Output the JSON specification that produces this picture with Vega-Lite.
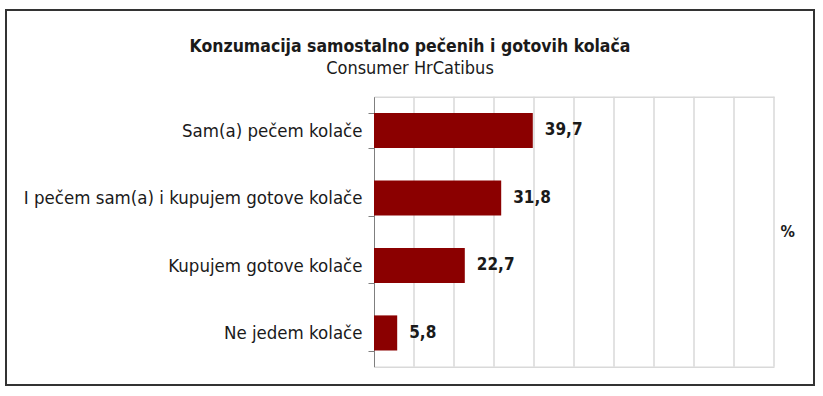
{
  "$schema": "https://vega.github.io/schema/vega-lite/v6.json",
  "width": 808,
  "height": 375,
  "autosize": {"type": "none"},
  "padding": {"left": 6, "top": 10, "right": 9, "bottom": 11},
  "background": "white",
  "title": {
    "text": "Konzumacija samostalno pečenih i gotovih kolača",
    "subtitle": "Consumer HrCatibus",
    "anchor": "middle",
    "frame": "group",
    "offset": -77,
    "font": "DejaVu Sans Condensed",
    "fontSize": 17.5,
    "fontWeight": "bold",
    "color": "#1a1a1a",
    "subtitleFont": "DejaVu Sans Condensed",
    "subtitleFontSize": 18,
    "subtitleColor": "#1a1a1a",
    "subtitlePadding": 5
  },
  "layer": [
    {
      "data": {"values": [{"g": 10}, {"g": 20}, {"g": 30}, {"g": 40}, {"g": 50}, {"g": 60}, {"g": 70}, {"g": 80}, {"g": 90}, {"g": 100}]},
      "mark": {"type": "rule", "color": "#d9d9d9", "strokeWidth": 1.5},
      "encoding": {
        "x": {"field": "g", "type": "quantitative", "axis": null},
        "y": {"datum": 0, "type": "quantitative", "scale": {"domain": [0, 1], "range": [86.7, 356.7]}, "axis": null},
        "y2": {"datum": 1}
      }
    },
    {
      "data": {
        "values": [
          {"kategorija": "Sam(a) pečem kolače", "postotak": 39.7},
          {"kategorija": "I pečem sam(a) i kupujem gotove kolače", "postotak": 31.8},
          {"kategorija": "Kupujem gotove kolače", "postotak": 22.7},
          {"kategorija": "Ne jedem kolače", "postotak": 5.8}
        ]
      },
      "layer": [
        {
          "mark": {"type": "bar", "color": "#8B0000"},
          "encoding": {
            "y": {
              "field": "kategorija",
              "type": "nominal",
              "sort": null,
              "scale": {"range": [86.7, 356.7], "paddingInner": 0.48, "paddingOuter": 0.24},
              "axis": {
                "orient": "left",
                "offset": -368,
                "title": null,
                "tickBand": "extent",
                "tickSize": 6,
                "labelPadding": 6,
                "domainColor": "#7f7f7f",
                "tickColor": "#7f7f7f",
                "labelFont": "DejaVu Sans Condensed",
                "labelFontSize": 18.5,
                "labelColor": "#1a1a1a",
                "labelLimit": 400
              }
            },
            "x": {
              "field": "postotak",
              "type": "quantitative",
              "axis": {
                "orient": "bottom",
                "offset": -18.3,
                "title": null,
                "labels": false,
                "ticks": false,
                "grid": false,
                "domainColor": "#d9d9d9",
                "domainWidth": 1.5
              }
            }
          }
        },
        {
          "mark": {"type": "text", "align": "left", "baseline": "middle", "dx": 12, "font": "DejaVu Sans Condensed", "fontSize": 17, "fontWeight": "bold", "color": "#1a1a1a"},
          "encoding": {
            "y": {
              "field": "kategorija",
              "type": "nominal",
              "sort": null,
              "axis": {
                "orient": "right",
                "offset": -40,
                "title": "%",
                "titleAngle": 0,
                "titleAlign": "left",
                "titleBaseline": "middle",
                "titlePadding": 6,
                "titleFont": "DejaVu Sans Condensed",
                "titleFontSize": 16,
                "titleFontWeight": "bold",
                "titleColor": "#1a1a1a",
                "labels": false,
                "ticks": false,
                "domain": false
              }
            },
            "x": {
              "field": "postotak",
              "type": "quantitative",
              "axis": {
                "orient": "top",
                "offset": -86.7,
                "title": null,
                "labels": false,
                "ticks": false,
                "grid": false,
                "domainColor": "#d9d9d9",
                "domainWidth": 1.5
              }
            },
            "text": {"field": "postotak", "type": "quantitative", "format": ".1f"}
          }
        }
      ],
      "resolve": {"axis": {"x": "independent", "y": "independent"}}
    }
  ],
  "encoding": {
    "x": {"scale": {"domain": [0, 100], "range": [368, 768], "nice": false}}
  },
  "resolve": {"scale": {"y": "independent"}, "axis": {"x": "independent", "y": "independent"}},
  "config": {
    "view": {"stroke": "#333333", "strokeWidth": 2},
    "locale": {
      "number": {"decimal": ",", "thousands": ".", "grouping": [3], "currency": ["", " €"]}
    }
  }
}
